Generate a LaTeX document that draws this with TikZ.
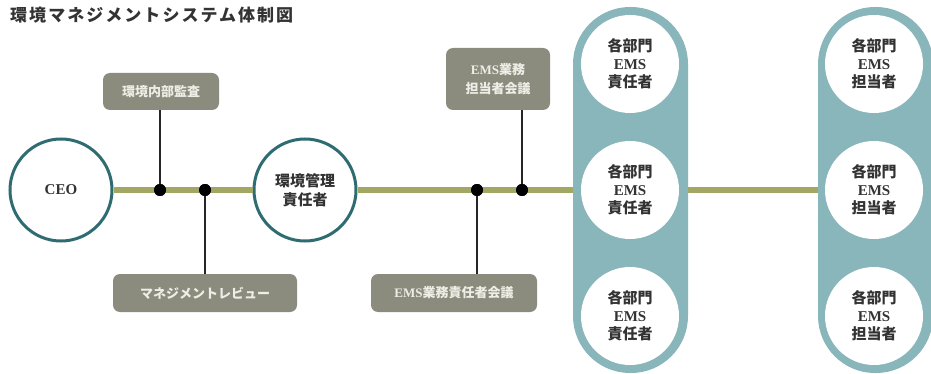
\documentclass[tikz,border=0pt]{standalone}
\usepackage{fontspec}
\setmainfont{Liberation Serif}
\newfontfamily\cjk{Noto Sans CJK JP}
\definecolor{linegreen}{HTML}{A2A864}
\definecolor{ringteal}{HTML}{2F6C71}
\definecolor{pillblue}{HTML}{88B6BB}
\definecolor{boxgray}{HTML}{8B8C7E}
\definecolor{boxtext}{HTML}{EEEEE6}
\definecolor{textdark}{HTML}{333333}
\begin{document}
\begin{tikzpicture}[x=1pt,y=-1pt,
  ring/.style={circle,draw=ringteal,line width=3pt,fill=white,minimum size=102pt,inner sep=0pt,align=center,text=textdark,font=\fontsize{15}{19}\selectfont\bfseries},
  wcirc/.style={circle,fill=white,minimum size=98pt,inner sep=0pt,align=center,text=textdark,font=\fontsize{15}{18}\selectfont\bfseries},
  pill/.style={rectangle,fill=pillblue,minimum width=115pt,minimum height=366pt,rounded corners=57pt,inner sep=0pt},
  tag/.style={rectangle,fill=boxgray,rounded corners=7pt,inner sep=0pt,align=center,text=boxtext,font=\fontsize{13}{19}\selectfont\bfseries},
  jn/.style={circle,fill=black,inner sep=0pt,minimum size=12pt},
  trunk/.style={draw=linegreen,line width=6pt},
  stem/.style={draw=black!85,line width=1.4pt}]
\useasboundingbox (0,0) rectangle (931,374);
% title
\node[anchor=west,inner sep=0pt,font=\cjk\bfseries\fontsize{17}{17}\selectfont\addfontfeature{LetterSpace=12},text=textdark] (title) at (10,15) {環境マネジメントシステム体制図};
% pills
\node[pill] (p1) at (630.5,190) {};
\node[pill] (p2) at (875.5,190) {};
% main nodes
\node[ring] (ceo) at (61,190) {CEO};
\node[ring] (mgr) at (305,190) {{\cjk 環境管理}\\{\cjk 責任者}};
% junctions
\node[jn] (d1) at (160,190) {};
\node[jn] (d2) at (205,190) {};
\node[jn] (d3) at (477,190) {};
\node[jn] (d4) at (522,190) {};
% trunk line
\draw[trunk] (ceo) -- (d1);
\draw[trunk] (d1) -- (d2);
\draw[trunk] (d2) -- (mgr);
\draw[trunk] (mgr) -- (d3);
\draw[trunk] (d3) -- (d4);
\draw[trunk] (d4) -- (p1);
\draw[trunk] (p1) -- (p2);
% tags
\node[tag,minimum width=116pt,minimum height=37pt] (audit) at (161,91.5) {\cjk 環境内部監査};
\node[tag,minimum width=184pt,minimum height=38pt] (review) at (205,293) {\cjk マネジメントレビュー};
\node[tag,minimum width=166pt,minimum height=38pt] (mtgA) at (454,293) {EMS{\cjk 業務責任者会議}};
\node[tag,minimum width=104pt,minimum height=62pt] (mtgB) at (498,79) {EMS{\cjk 業務}\\{\cjk 担当者会議}};
% stems
\draw[stem] (d1) -- (audit.south -| d1);
\draw[stem] (d2) -- (review.north -| d2);
\draw[stem] (d3) -- (mtgA.north -| d3);
\draw[stem] (d4) -- (mtgB.south -| d4);
\node[jn] at (d1) {};
\node[jn] at (d2) {};
\node[jn] at (d3) {};
\node[jn] at (d4) {};
% circles in pills
\node[wcirc] (a1) at (630,64) {{\cjk 各部門}\\EMS\\{\cjk 責任者}};
\node[wcirc] (a2) at (630,190) {{\cjk 各部門}\\EMS\\{\cjk 責任者}};
\node[wcirc] (a3) at (630,316) {{\cjk 各部門}\\EMS\\{\cjk 責任者}};
\node[wcirc] (b1) at (874,64) {{\cjk 各部門}\\EMS\\{\cjk 担当者}};
\node[wcirc] (b2) at (874,190) {{\cjk 各部門}\\EMS\\{\cjk 担当者}};
\node[wcirc] (b3) at (874,316) {{\cjk 各部門}\\EMS\\{\cjk 担当者}};
\end{tikzpicture}
\end{document}
